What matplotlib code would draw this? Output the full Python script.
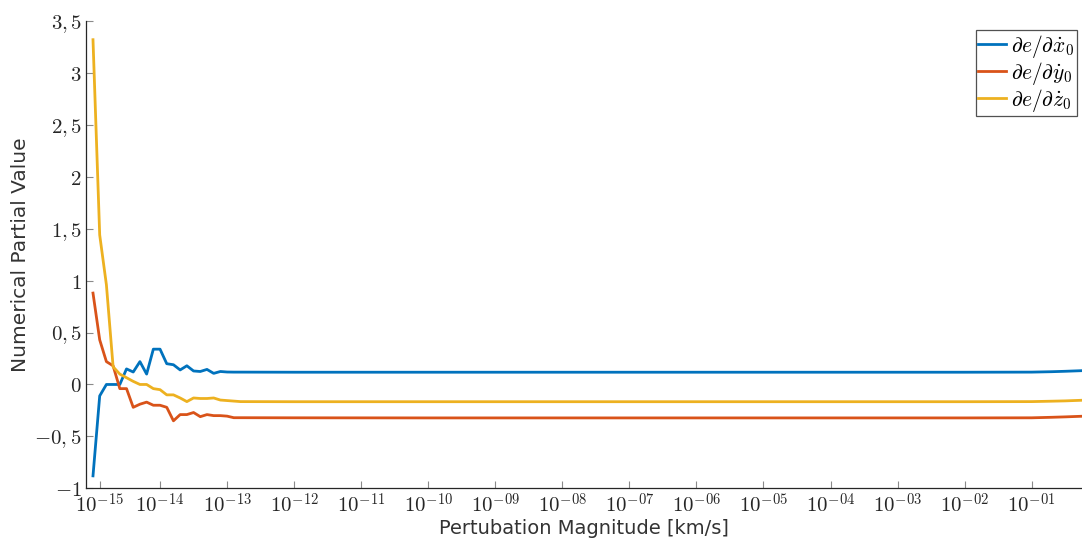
import numpy as np
import matplotlib
matplotlib.use("Agg")
import matplotlib.pyplot as plt

plt.rcParams['mathtext.fontset'] = 'cm'

# x positions as log10 exponents of the perturbation magnitude [km/s]
x_exp = [-15.0, -14.9, -14.8, -14.7, -14.6, -14.5, -14.4, -14.3, -14.2, -14.1,
         -14.0, -13.9, -13.8, -13.7, -13.6, -13.5, -13.4, -13.3, -13.2, -13.1,
         -13.0, -12.9, -12.8, -12.0, -10.0, -8.0, -6.0, -4.0, -2.0, -1.0,
         -0.7, -0.5, -0.25]

de_dxdot = [-0.88, -0.11, 0.00, 0.00, 0.00, 0.15, 0.12, 0.22, 0.10, 0.34,
            0.34, 0.20, 0.19, 0.14, 0.18, 0.13, 0.125, 0.145, 0.107, 0.125,
            0.12, 0.119, 0.119, 0.118, 0.118, 0.118, 0.118, 0.118, 0.118, 0.119,
            0.123, 0.127, 0.133]

de_dydot = [0.88, 0.43, 0.22, 0.18, -0.04, -0.04, -0.22, -0.19, -0.17, -0.20,
            -0.20, -0.22, -0.35, -0.29, -0.29, -0.27, -0.31, -0.29, -0.30, -0.30,
            -0.305, -0.32, -0.32, -0.321, -0.322, -0.322, -0.322, -0.322, -0.322, -0.321,
            -0.316, -0.312, -0.306]

de_dzdot = [3.32, 1.44, 0.96, 0.17, 0.10, 0.065, 0.03, 0.00, 0.00, -0.04,
            -0.05, -0.10, -0.10, -0.13, -0.165, -0.13, -0.135, -0.135, -0.13, -0.15,
            -0.155, -0.16, -0.165, -0.166, -0.166, -0.166, -0.166, -0.166, -0.166, -0.165,
            -0.161, -0.158, -0.152]

series_labels = [r'$\partial e/\partial \dot{x}_0$',
                 r'$\partial e/\partial \dot{y}_0$',
                 r'$\partial e/\partial \dot{z}_0$']
colors = ['#0072BD', '#D95319', '#EDB120']

xtick_exp = [-14.9, -14, -13, -12, -11, -10, -9, -8, -7, -6, -5, -4, -3, -2, -1]
xtick_labels = [r'$10^{-15}$', r'$10^{-14}$', r'$10^{-13}$', r'$10^{-12}$', r'$10^{-11}$',
                r'$10^{-10}$', r'$10^{-09}$', r'$10^{-08}$', r'$10^{-07}$', r'$10^{-06}$',
                r'$10^{-05}$', r'$10^{-04}$', r'$10^{-03}$', r'$10^{-02}$', r'$10^{-01}$']
ytick_vals = [-1, -0.5, 0, 0.5, 1, 1.5, 2, 2.5, 3, 3.5]
ytick_labels = [r'$-1$', r'$-0,5$', r'$0$', r'$0,5$', r'$1$', r'$1,5$', r'$2$',
                r'$2,5$', r'$3$', r'$3,5$']

x = 10.0 ** np.array(x_exp)

fig = plt.figure(figsize=(10.82, 5.43), dpi=100)
ax = fig.add_axes([0.0795, 0.1007, 0.9205, 0.8606])

for ys, lab, c in zip([de_dxdot, de_dydot, de_dzdot], series_labels, colors):
    ax.plot(x, ys, color=c, lw=2.0, label=lab)

ax.set_xscale('log')
ax.set_xlim(10 ** -15.104, 10 ** -0.249)
ax.set_ylim(-1, 3.5)
ax.set_xticks(10.0 ** np.array(xtick_exp))
ax.set_xticklabels(xtick_labels)
ax.xaxis.set_minor_locator(matplotlib.ticker.NullLocator())
ax.set_yticks(ytick_vals)
ax.set_yticklabels(ytick_labels)

ax.spines['top'].set_visible(False)
ax.spines['right'].set_visible(False)
for s in ['left', 'bottom']:
    ax.spines[s].set_color('#262626')
    ax.spines[s].set_linewidth(0.9)
ax.tick_params(direction='in', length=5, width=0.8, color='#8a8a8a',
               labelsize=15, labelcolor='#262626', pad=3)

ax.set_xlabel('Pertubation Magnitude [km/s]', fontsize=14, family='DejaVu Sans',
              color='#333333', labelpad=2)
ax.set_ylabel('Numerical Partial Value', fontsize=14.5, family='DejaVu Sans',
              color='#333333', labelpad=3)

leg = ax.legend(loc='upper right', bbox_to_anchor=(0.9945, 0.98), fontsize=15.5,
                frameon=True, fancybox=False, handlelength=1.3, handletextpad=0.25,
                borderpad=0.1, labelspacing=0.0, borderaxespad=0.0)
leg.get_frame().set_edgecolor('#262626')
leg.get_frame().set_linewidth(0.9)

fig.savefig('out.png', dpi=100)
